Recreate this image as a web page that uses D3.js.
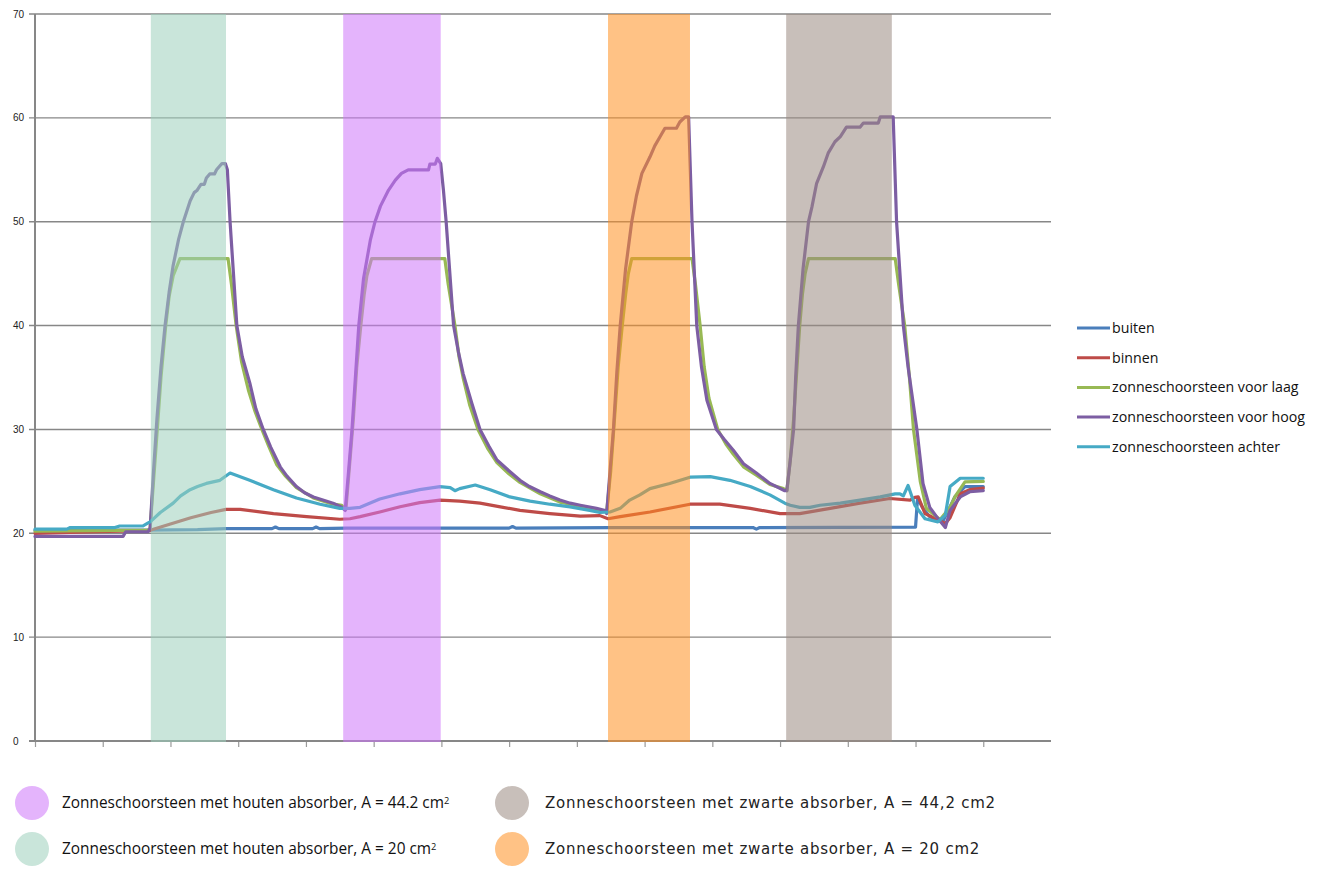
<!DOCTYPE html>
<html><head><meta charset="utf-8">
<script src="https://cdn.jsdelivr.net/npm/d3@7"></script>
<style>body{margin:0;background:#fff}</style>
</head><body><svg id="c" width="1326" height="870"></svg>
<script>
// ---------- data ----------
const yTicks = [0, 10, 20, 30, 40, 50, 60, 70];
const xTicks = [0, 1, 2, 3, 4, 5, 6, 7, 8, 9, 10, 11, 12, 13, 14];
const seriesNames = ["buiten", "binnen", "zonneschoorsteen voor laag", "zonneschoorsteen voor hoog", "zonneschoorsteen achter"];

const buiten = [[0,20.3],[1.67,20.3],[2.4,20.35],[2.82,20.45],[3.5,20.45],[3.55,20.6],[3.6,20.45],[4.1,20.45],[4.15,20.6],[4.2,20.45],[4.6,20.5],[7.0,20.5],[7.05,20.65],[7.1,20.5],[8.5,20.55],[10.6,20.55],[10.65,20.4],[10.7,20.55],[13.0,20.6],[13.03,23.4],[13.1,22.5],[13.21,21.6],[13.40,21.1],[13.58,23.5],[13.73,24.5],[14.0,24.5]];

const binnen = [[0,20.0],[0.66,20.1],[1.25,20.2],[1.67,20.25],[1.70,20.3],[2.0,20.9],[2.3,21.5],[2.6,22.0],[2.82,22.3],[3.03,22.3],[3.52,21.9],[4.01,21.6],[4.50,21.35],[4.65,21.4],[4.80,21.6],[5.09,22.05],[5.39,22.55],[5.68,22.95],[5.98,23.2],[6.27,23.1],[6.57,22.9],[6.87,22.55],[7.16,22.2],[7.60,21.9],[8.05,21.65],[8.34,21.7],[8.46,21.4],[8.64,21.6],[9.08,22.05],[9.67,22.8],[10.11,22.8],[10.56,22.4],[11.00,21.9],[11.29,21.9],[11.74,22.4],[12.18,22.9],[12.62,23.35],[12.92,23.2],[12.99,23.45],[13.04,23.5],[13.14,21.9],[13.36,21.2],[13.44,20.95],[13.51,21.5],[13.66,23.8],[13.80,24.2],[14.0,24.35]];

const voorLaag = [[0,20.2],[1.67,20.3],[1.70,20.5],[1.75,25],[1.80,29.5],[1.86,35],[1.93,40],[1.98,42.8],[2.04,44.8],[2.14,46.45],[2.85,46.45],[2.90,44],[2.97,40],[3.05,36.5],[3.15,33.8],[3.25,31.7],[3.35,30],[3.45,28.4],[3.57,26.6],[3.70,25.5],[3.86,24.4],[4.11,23.4],[4.40,22.8],[4.53,22.7],[4.59,22.3],[4.65,27],[4.70,31],[4.75,36],[4.81,40],[4.86,43],[4.90,44.8],[4.97,46.45],[6.05,46.45],[6.10,44],[6.20,40],[6.26,37],[6.32,35],[6.42,32.3],[6.54,30],[6.68,28.2],[6.82,26.8],[7.0,25.7],[7.16,24.9],[7.46,23.8],[7.75,23.0],[8.05,22.6],[8.29,22.3],[8.44,22.1],[8.50,26],[8.55,30.5],[8.61,36],[8.67,40],[8.72,43],[8.76,45],[8.81,46.45],[9.70,46.45],[9.75,44],[9.82,40],[9.88,36],[9.95,33],[10.08,30],[10.20,28.6],[10.31,27.6],[10.46,26.4],[10.65,25.6],[10.85,24.7],[11.05,24.3],[11.10,24.1],[11.15,27],[11.20,31],[11.25,36],[11.29,40],[11.33,43],[11.37,45],[11.42,46.45],[12.70,46.45],[12.75,44],[12.84,40],[12.91,35],[12.97,30],[13.07,25],[13.16,22.4],[13.31,21.6],[13.36,21.3],[13.51,22.5],[13.58,23.5],[13.73,24.95],[14.0,25.0]];

const voorHoog = [[0,19.7],[1.30,19.7],[1.34,20.15],[1.67,20.15],[1.70,20.5],[1.75,26],[1.80,31],[1.86,36],[1.92,40],[1.98,43.2],[2.04,45.8],[2.12,48.3],[2.19,50],[2.29,52],[2.35,52.8],[2.39,53],[2.45,53.6],[2.50,53.6],[2.53,54.2],[2.58,54.6],[2.65,54.6],[2.68,55.0],[2.76,55.6],[2.81,55.6],[2.84,55.0],[2.88,50],[2.98,40],[3.06,37],[3.17,34.5],[3.26,32],[3.37,30],[3.48,28.3],[3.62,26.4],[3.72,25.5],[3.86,24.5],[3.98,23.9],[4.11,23.5],[4.25,23.2],[4.40,22.9],[4.53,22.5],[4.58,22.2],[4.63,26],[4.68,30],[4.73,35],[4.78,40],[4.85,44.5],[4.95,48.2],[5.02,50],[5.10,51.5],[5.22,53.05],[5.32,54],[5.41,54.65],[5.51,55.0],[5.81,55.0],[5.83,55.55],[5.91,55.55],[5.94,56.1],[5.99,55.6],[6.03,53.05],[6.07,50],[6.18,40],[6.25,37.5],[6.32,35.4],[6.45,32.5],[6.57,30],[6.70,28.4],[6.82,27.05],[7.0,26],[7.16,25.1],[7.30,24.5],[7.46,24.0],[7.60,23.6],[7.75,23.2],[7.90,22.9],[8.05,22.7],[8.29,22.4],[8.42,22.2],[8.44,21.9],[8.49,26],[8.54,30],[8.59,35.5],[8.64,40],[8.72,45.5],[8.81,50],[8.88,52.5],[8.96,54.65],[9.08,56.25],[9.15,57.3],[9.23,58.2],[9.30,59.0],[9.47,59.0],[9.52,59.6],[9.60,60.1],[9.65,60.1],[9.70,50],[9.77,40],[9.84,36],[9.92,32.8],[10.06,30],[10.18,29],[10.31,28.0],[10.46,26.7],[10.65,25.8],[10.85,24.8],[11.07,24.1],[11.10,24.1],[11.15,27],[11.20,30],[11.23,35],[11.27,40],[11.34,45.5],[11.42,50],[11.47,51.4],[11.54,53.7],[11.64,55.3],[11.71,56.6],[11.81,57.7],[11.89,58.2],[11.98,59.1],[12.18,59.1],[12.23,59.5],[12.45,59.5],[12.48,60.1],[12.67,60.1],[12.72,50],[12.82,40],[12.89,36.0],[13.02,30],[13.11,24.8],[13.21,22.5],[13.31,21.6],[13.44,20.55],[13.51,22.2],[13.66,23.5],[13.80,24.0],[14.0,24.1]];

const achter = [[0,20.4],[0.47,20.4],[0.52,20.55],[1.18,20.55],[1.25,20.7],[1.59,20.7],[1.67,21.0],[1.70,21.1],[1.85,22.0],[2.04,22.9],[2.15,23.6],[2.29,24.2],[2.40,24.5],[2.53,24.8],[2.73,25.1],[2.88,25.8],[3.17,25.1],[3.52,24.2],[3.86,23.4],[4.21,22.8],[4.50,22.4],[4.65,22.4],[4.80,22.5],[5.09,23.3],[5.39,23.8],[5.68,24.2],[5.98,24.5],[6.13,24.4],[6.20,24.1],[6.27,24.3],[6.50,24.65],[6.72,24.2],[7.01,23.5],[7.31,23.1],[7.60,22.8],[7.90,22.55],[8.19,22.2],[8.34,22.0],[8.49,22.05],[8.64,22.4],[8.78,23.2],[8.93,23.7],[9.08,24.3],[9.37,24.8],[9.67,25.4],[9.97,25.45],[10.26,25.1],[10.56,24.5],[10.85,23.7],[11.07,22.9],[11.15,22.7],[11.29,22.5],[11.44,22.5],[11.59,22.7],[11.89,22.9],[12.18,23.2],[12.48,23.5],[12.70,23.8],[12.77,23.8],[12.82,23.6],[12.89,24.6],[12.99,22.7],[13.14,21.4],[13.33,21.1],[13.44,21.75],[13.51,24.5],[13.66,25.3],[14.0,25.3]];

const seriesData = [buiten, binnen, voorLaag, voorHoog, achter];

const bandRanges = [[1.71, 2.82], [4.55, 5.99], [8.46, 9.67], [11.09, 12.65]];
const bandLabels = [
  "Zonneschoorsteen met houten absorber, A = 20 cm",
  "Zonneschoorsteen met houten absorber, A = 44.2 cm",
  "Zonneschoorsteen met zwarte absorber, A = 20 cm2",
  "Zonneschoorsteen met zwarte absorber, A = 44,2 cm2"
];

// ---------- styles ----------
const seriesColors = ["#4a7ebb", "#be4b48", "#98b954", "#7d5ea3", "#46aac5"];
const bandFill = ["#9dd0bc", "#ce77f9", "#ff9021", "#9b8b82"];
const bandDisplay = ["#c9e5da", "#e4b4fc", "#ffc285", "#c8bfba"];
const bandOpacity = 0.55;

const svg = d3.select("#c");
const x = d3.scaleLinear().domain([0, 15]).range([35, 1051]);
const y = d3.scaleLinear().domain([0, 70]).range([741, 14]);

// gridlines
svg.append("g").selectAll("line").data(yTicks).join("line")
  .attr("x1", 29).attr("x2", x(15))
  .attr("y1", d => y(d)).attr("y2", d => y(d))
  .attr("stroke", "#878787").attr("stroke-width", 1.4);

// y labels
svg.append("g").selectAll("text").data(yTicks).join("text")
  .attr("x", 13).attr("y", d => y(d)).attr("dy", "0.35em")
  .attr("font-family", "Liberation Sans, Arial, sans-serif").attr("font-size", 10)
  .attr("fill", "#222").text(d => d);

// x ticks
const xa = svg.append("g").attr("transform", `translate(0,${y(0)})`)
  .call(d3.axisBottom(x).tickValues(xTicks).tickSize(6).tickFormat(""));
xa.select(".domain").remove();
xa.selectAll(".tick line").attr("stroke", "#9a9a9a").attr("stroke-width", 1.2);

// axes lines
svg.append("line").attr("x1", x(0)).attr("x2", x(0)).attr("y1", y(70)).attr("y2", y(0))
  .attr("stroke", "#878787").attr("stroke-width", 2);
svg.append("line").attr("x1", 29).attr("x2", x(15)).attr("y1", y(0)).attr("y2", y(0))
  .attr("stroke", "#878787").attr("stroke-width", 2.2);

// series
const line = d3.line().x(d => x(d[0])).y(d => y(d[1]));
svg.append("g").selectAll("path").data(seriesData).join("path")
  .attr("d", line).attr("fill", "none")
  .attr("stroke", (d, i) => seriesColors[i]).attr("stroke-width", 3.2)
  .attr("stroke-linejoin", "round").attr("stroke-linecap", "round");

// bands (overlay)
svg.append("g").selectAll("rect").data(bandRanges).join("rect")
  .attr("x", d => x(d[0])).attr("width", d => x(d[1]) - x(d[0]))
  .attr("y", y(70)).attr("height", y(0) - y(70) + 1)
  .attr("fill", (d, i) => bandFill[i]).attr("opacity", bandOpacity);

// right legend
const lg = svg.append("g");
seriesNames.forEach((n, i) => {
  const yy = 328 + i * 29.7;
  lg.append("line").attr("x1", 1077).attr("x2", 1110).attr("y1", yy).attr("y2", yy)
    .attr("stroke", seriesColors[i]).attr("stroke-width", 3);
  lg.append("text").attr("x", 1112).attr("y", yy).attr("dy", "0.35em")
    .attr("font-family", "Open Sans, sans-serif").attr("font-size", 14.2)
    .attr("fill", "#111").text(n);
});

// bottom legend
const bl = [
  {band: 1, cx: 32, cy: 803, tx: 62, sup: true},
  {band: 0, cx: 32, cy: 849, tx: 62, sup: true},
  {band: 3, cx: 512, cy: 803, tx: 545, sup: false},
  {band: 2, cx: 512, cy: 849, tx: 545, sup: false}
];
bl.forEach(b => {
  svg.append("ellipse").attr("cx", b.cx).attr("cy", b.cy).attr("rx", 17).attr("ry", 17)
    .attr("fill", bandDisplay[b.band]);
  const t = svg.append("text").attr("x", b.tx).attr("y", b.cy).attr("dy", "0.35em")
    .attr("fill", "#111");
  if (b.sup) {
    t.attr("font-family", "Open Sans, sans-serif").attr("font-size", 15.4);
    t.append("tspan").text(bandLabels[b.band]);
    t.append("tspan").attr("dy", "-0.45em").attr("font-size", "0.6em").text("2");
  } else {
    t.attr("font-family", "DejaVu Sans, sans-serif").attr("font-size", 15)
      .attr("letter-spacing", 0.75).attr("fill", "#222")
      .text(bandLabels[b.band]);
  }
});
</script></body></html>
